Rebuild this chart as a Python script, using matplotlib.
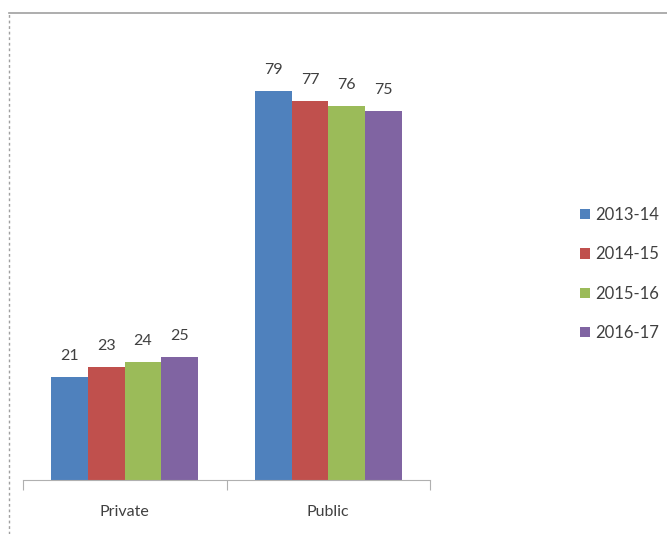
import numpy as np
import matplotlib.pyplot as plt
from matplotlib.lines import Line2D
from matplotlib.patches import Patch

plt.rcParams['font.family'] = ['Lato', 'DejaVu Sans']

categories = ["Private", "Public"]
years = ["2013-14", "2014-15", "2015-16", "2016-17"]
shares = {
    "2013-14": [21, 79],
    "2014-15": [23, 77],
    "2015-16": [24, 76],
    "2016-17": [25, 75],
}
colors = ["#4F81BD", "#C0504D", "#9BBB59", "#8064A2"]

fig = plt.figure(figsize=(6.67, 5.34), dpi=100)
ax = fig.add_axes([23 / 667, 1 - 480 / 534, (430 - 23) / 667, (480 - 37) / 534])

x = np.arange(len(categories))
width = 0.18
for i, yr in enumerate(years):
    pos = x + (i - 1.5) * width
    bars = ax.bar(pos, shares[yr], width=width, color=colors[i], label=yr)
    for b, v in zip(bars, shares[yr]):
        ax.text(b.get_x() + b.get_width() / 2, v + 2.8, str(v),
                ha="center", va="bottom", fontsize=11.5, color="#404040")

ax.set_xlim(-0.5, 1.5)
ax.set_ylim(0, 90)
ax.set_yticks([])
for s in ["top", "right", "left"]:
    ax.spines[s].set_visible(False)
ax.spines["bottom"].set_color("#b0b0b0")
ax.set_xticks([-0.5, 0.5, 1.5])
ax.set_xticklabels([])
ax.set_xticks(x, minor=True)
ax.set_xticklabels(categories, minor=True, fontsize=11.5, color="#404040")
ax.tick_params(axis="x", which="major", length=7, color="#b0b0b0")
ax.tick_params(axis="x", which="minor", length=0, pad=18)

handles = [Patch(facecolor=c, label=y) for c, y in zip(colors, years)]
fig.legend(handles=handles, loc="upper left", bbox_to_anchor=(565 / 667, 1 - 192 / 534),
           frameon=False, fontsize=12, handlelength=0.6, handleheight=0.6,
           handletextpad=0.3, labelspacing=1.4, labelcolor="#404040")

# outer chart frame
fig.add_artist(Line2D([9 / 667, 1], [1 - 13 / 534, 1 - 13 / 534],
                      transform=fig.transFigure, color="#a0a0a0", lw=1.2))
fig.add_artist(Line2D([9 / 667, 9 / 667], [0, 1 - 13 / 534],
                      transform=fig.transFigure, color="#a0a0a0", lw=1, ls=(0, (2, 2))))

fig.savefig("out.png", dpi=100)
